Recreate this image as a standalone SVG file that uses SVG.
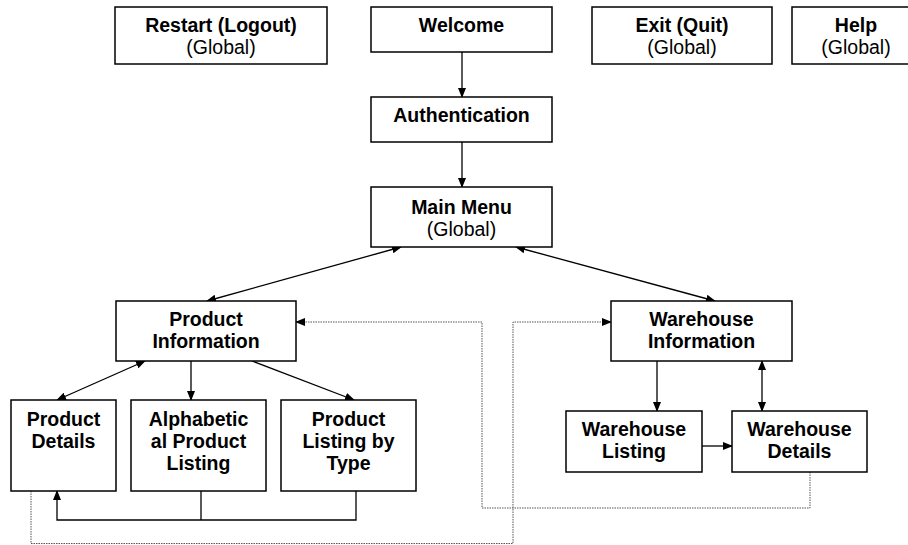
<svg xmlns="http://www.w3.org/2000/svg" width="908" height="545" viewBox="0 0 908 545">
<style>
.box{fill:#fff;stroke:#000;stroke-width:1.5}
.t{font-family:"Liberation Sans",Arial,sans-serif;font-size:19.5px;text-anchor:middle;fill:#000}
.b{font-weight:bold}
.c{fill:none;stroke:#000;stroke-width:1.3}
.d{fill:none;stroke:#555;stroke-width:1;stroke-dasharray:1.5,1}
</style>
<defs>
<marker id="a" markerUnits="userSpaceOnUse" markerWidth="10" markerHeight="8" refX="9" refY="4" orient="auto-start-reverse" viewBox="0 0 10 8">
<path d="M0,0L10,4L0,8z" fill="#000"/>
</marker>
</defs>
<rect width="908" height="545" fill="#fff"/>
<g id="connectors">
<path class="c" d="M462,52V97" marker-end="url(#a)"/>
<path class="c" d="M462,142V187" marker-end="url(#a)"/>
<path class="c" d="M401,247L207,301" marker-start="url(#a)" marker-end="url(#a)"/>
<path class="c" d="M516,247L715,301" marker-start="url(#a)" marker-end="url(#a)"/>
<path class="c" d="M145,361L57,400" marker-start="url(#a)" marker-end="url(#a)"/>
<path class="c" d="M191,361V400" marker-end="url(#a)"/>
<path class="c" d="M252,361L354,400" marker-end="url(#a)"/>
<path class="c" d="M201,491V520"/>
<path class="c" d="M356,491V520H57V491" marker-end="url(#a)"/>
<path class="c" d="M657,361V411" marker-end="url(#a)"/>
<path class="c" d="M762,361V411" marker-start="url(#a)" marker-end="url(#a)"/>
<path class="c" d="M702,446H732" marker-end="url(#a)"/>
<path class="d" d="M31,491V543.5H513V322H611" marker-end="url(#a)"/>
<path class="d" d="M810,472V508H482V322H296" marker-end="url(#a)"/>
</g>
<g id="restart"><rect class="box" x="115" y="7" width="212" height="57"/><text class="t b" x="221" y="32">Restart (Logout)</text><text class="t" x="221" y="54">(Global)</text></g>
<g id="welcome"><rect class="box" x="371" y="7" width="181" height="45"/><text class="t b" x="461.5" y="32">Welcome</text></g>
<g id="exit"><rect class="box" x="592" y="7" width="180" height="57"/><text class="t b" x="682" y="32">Exit (Quit)</text><text class="t" x="682" y="54">(Global)</text></g>
<g id="help"><rect class="box" x="792" y="7" width="128" height="57"/><text class="t b" x="856" y="32">Help</text><text class="t" x="856" y="54">(Global)</text></g>
<g id="authentication"><rect class="box" x="371" y="97" width="181" height="45"/><text class="t b" x="461.5" y="122">Authentication</text></g>
<g id="main-menu"><rect class="box" x="371" y="187" width="181" height="60"/><text class="t b" x="461.5" y="214">Main Menu</text><text class="t" x="461.5" y="236">(Global)</text></g>
<g id="product-information"><rect class="box" x="116" y="301" width="180" height="60"/><text class="t b" x="206" y="326">Product</text><text class="t b" x="206" y="348">Information</text></g>
<g id="warehouse-information"><rect class="box" x="611" y="301" width="181" height="60"/><text class="t b" x="701.5" y="326">Warehouse</text><text class="t b" x="701.5" y="348">Information</text></g>
<g id="product-details"><rect class="box" x="11" y="400" width="105" height="91"/><text class="t b" x="63.5" y="426">Product</text><text class="t b" x="63.5" y="448">Details</text></g>
<g id="alphabetical"><rect class="box" x="131" y="400" width="135" height="91"/><text class="t b" x="198.5" y="426">Alphabetic</text><text class="t b" x="198.5" y="448">al Product</text><text class="t b" x="198.5" y="470">Listing</text></g>
<g id="listing-by-type"><rect class="box" x="281" y="400" width="135" height="91"/><text class="t b" x="348.5" y="426">Product</text><text class="t b" x="348.5" y="448">Listing by</text><text class="t b" x="348.5" y="470">Type</text></g>
<g id="warehouse-listing"><rect class="box" x="566" y="411" width="136" height="61"/><text class="t b" x="634" y="436">Warehouse</text><text class="t b" x="634" y="458">Listing</text></g>
<g id="warehouse-details"><rect class="box" x="732" y="411" width="135" height="61"/><text class="t b" x="799.5" y="436">Warehouse</text><text class="t b" x="799.5" y="458">Details</text></g>
</svg>
